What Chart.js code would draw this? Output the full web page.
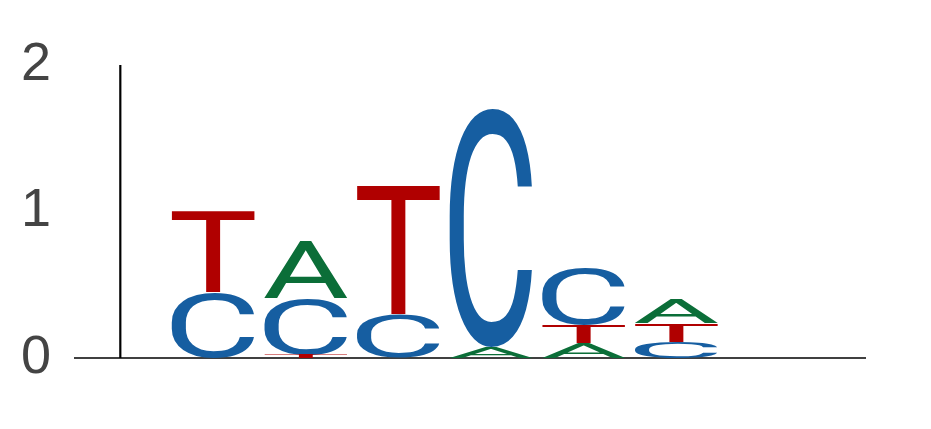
<!DOCTYPE html>
<html>
<head>
<meta charset="utf-8">
<script src="https://cdn.jsdelivr.net/npm/chart.js@4/dist/chart.umd.min.js"></script>
<style>
  html, body { margin: 0; padding: 0; background: #ffffff; }
  #wrap { width: 931px; height: 429px; }
</style>
</head>
<body>
<div id="wrap"><canvas id="c" width="931" height="429"></canvas></div>
<script>
// Sequence positions and information content (bits) per letter
const positions = [1, 2, 3, 4, 5, 6];
const letters = ['A', 'C', 'G', 'T'];
const heightA = [0.00, 0.39, 0.00, 0.075, 0.10, 0.16];
const heightC = [0.45, 0.38, 0.30, 1.635, 0.39, 0.11];
const heightG = [0.00, 0.00, 0.00, 0.00, 0.00, 0.00];
const heightT = [0.55, 0.025, 0.88, 0.00, 0.13, 0.13];
const yTicks = [0, 1, 2];

const letterColors = { A: '#0b6e38', C: '#165ea1', G: '#f7b32b', T: '#b00000' };
const heights = { A: heightA, C: heightC, G: heightG, T: heightT };

// Build stacked intervals: smallest letter at the bottom
const stacks = { A: [], C: [], G: [], T: [] };
positions.forEach((p, i) => {
  const order = letters.filter(l => heights[l][i] > 0).sort((a, b) => heights[a][i] - heights[b][i]);
  let base = 0;
  order.forEach(l => {
    const h = heights[l][i];
    stacks[l].push({ x: p, y: base + h, lo: base });
    base += h;
  });
});

const datasets = letters.map(l => ({
  label: l,
  data: stacks[l],
  pointRadius: 0,
  pointHoverRadius: 0,
  showLine: false,
  backgroundColor: letterColors[l],
  borderColor: letterColors[l]
}));

const LETTER_WIDTH = 0.9;
const GLYPH_FONT = '400 200px Roboto';
const glyphCache = {};
function glyphBox(ctx, ch) {
  if (glyphCache[ch]) return glyphCache[ch];
  ctx.save();
  ctx.font = GLYPH_FONT;
  ctx.textBaseline = 'alphabetic';
  ctx.textAlign = 'left';
  const m = ctx.measureText(ch);
  ctx.restore();
  const b = {
    left: -m.actualBoundingBoxLeft,
    right: m.actualBoundingBoxRight,
    top: -m.actualBoundingBoxAscent,
    bottom: m.actualBoundingBoxDescent
  };
  glyphCache[ch] = b;
  return b;
}

const logoPlugin = {
  id: 'logo',
  afterDatasetsDraw(chart) {
    const ctx = chart.ctx;
    const xs = chart.scales.x, ys = chart.scales.y;
    // axes lines
    ctx.save();
    ctx.strokeStyle = '#000000';
    ctx.lineWidth = 1.3;
    const y0 = ys.getPixelForValue(0);
    ctx.beginPath();
    ctx.moveTo(chart.chartArea.left, y0);
    ctx.lineTo(chart.chartArea.right, y0);
    ctx.stroke();
    ctx.lineWidth = 2.2;
    const x0 = xs.getPixelForValue(0);
    ctx.beginPath();
    ctx.moveTo(x0, ys.getPixelForValue(0));
    ctx.lineTo(x0, ys.getPixelForValue(2));
    ctx.stroke();
    ctx.restore();

    chart.data.datasets.forEach(ds => {
      const ch = ds.label;
      const g = glyphBox(ctx, ch);
      ds.data.forEach(d => {
        const left = xs.getPixelForValue(d.x - LETTER_WIDTH / 2);
        const right = xs.getPixelForValue(d.x + LETTER_WIDTH / 2);
        const top = ys.getPixelForValue(d.y);
        const bottom = ys.getPixelForValue(d.lo);
        const w = right - left, h = bottom - top;
        if (h <= 0.2) return;
        ctx.save();
        ctx.beginPath();
        ctx.translate(left, top);
        ctx.scale(w / (g.right - g.left), h / (g.bottom - g.top));
        ctx.translate(-g.left, -g.top);
        ctx.font = GLYPH_FONT;
        ctx.textBaseline = 'alphabetic';
        ctx.textAlign = 'left';
        ctx.fillStyle = ds.backgroundColor;
        ctx.fillText(ch, 0, 0);
        ctx.restore();
      });
    });
  }
};

new Chart(document.getElementById('c'), {
  type: 'scatter',
  data: { datasets },
  plugins: [logoPlugin],
  options: {
    responsive: false,
    animation: false,
    events: [],
    layout: { padding: { top: 65, bottom: 71, left: 0, right: 65 } },
    plugins: { legend: { display: false }, tooltip: { enabled: false } },
    scales: {
      x: {
        type: 'linear',
        min: -0.5,
        max: 8.05,
        display: false
      },
      y: {
        type: 'linear',
        min: 0,
        max: 2,
        afterBuildTicks(scale) { scale.ticks = yTicks.map(v => ({ value: v })); },
        afterFit(scale) { scale.width = 74; },
        grid: { display: false, drawTicks: false },
        border: { display: false },
        ticks: {
          padding: 23,
          color: '#444444',
          font: { family: 'Liberation Sans', size: 54 },
          callback: v => String(v)
        }
      }
    }
  }
});
</script>
</body>
</html>
